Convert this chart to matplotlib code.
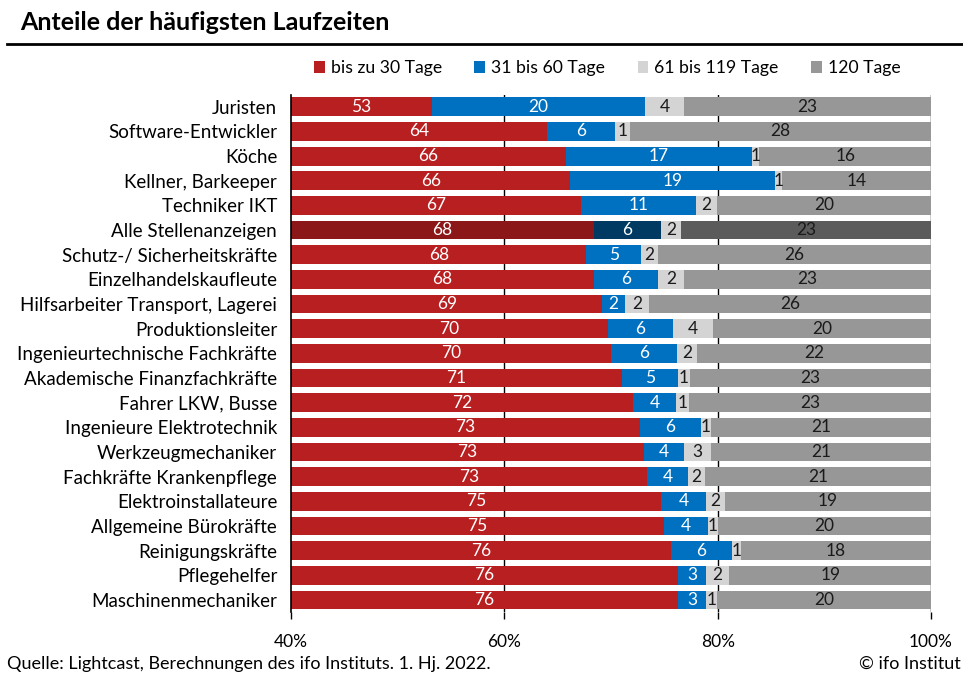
import numpy as np
from matplotlib import pyplot as plt

plt.rcParams['font.family'] = ['Lato', 'DejaVu Sans']

# categories top to bottom
berufe = ['Juristen', 'Software-Entwickler', 'Köche', 'Kellner, Barkeeper',
          'Techniker IKT', 'Alle Stellenanzeigen', 'Schutz-/ Sicherheitskräfte',
          'Einzelhandelskaufleute', 'Hilfsarbeiter Transport, Lagerei',
          'Produktionsleiter', 'Ingenieurtechnische Fachkräfte',
          'Akademische Finanzfachkräfte', 'Fahrer LKW, Busse',
          'Ingenieure Elektrotechnik', 'Werkzeugmechaniker',
          'Fachkräfte Krankenpflege', 'Elektroinstallateure',
          'Allgemeine Bürokräfte', 'Reinigungskräfte', 'Pflegehelfer',
          'Maschinenmechaniker']

# shares in percent
bis30 = [53.2, 64.0, 65.8, 66.2, 67.2, 68.4, 67.7, 68.4, 69.2, 69.7, 70.0,
         71.0, 72.1, 72.7, 73.1, 73.4, 74.7, 75.0, 75.6, 76.3, 76.3]
bis60 = [20.0, 6.4, 17.4, 19.2, 10.8, 6.3, 5.1, 6.0, 2.1, 6.1, 6.2,
         5.3, 4.0, 5.7, 3.7, 3.8, 4.2, 4.1, 5.7, 2.6, 2.6]
bis119 = [3.6, 1.4, 0.7, 0.6, 1.9, 1.9, 1.6, 2.4, 2.3, 3.8, 1.9,
          1.1, 1.2, 1.0, 2.6, 1.6, 1.8, 0.9, 0.9, 2.2, 1.0]
ab120 = [23.2, 28.2, 16.1, 14.0, 20.1, 23.4, 25.6, 23.2, 26.4, 20.4, 21.9,
         22.6, 22.7, 20.6, 20.6, 21.2, 19.3, 20.0, 17.8, 18.9, 20.1]

serien = ['bis zu 30 Tage', '31 bis 60 Tage', '61 bis 119 Tage', '120 Tage']
farben = ['#B81F21', '#0070C0', '#D4D4D4', '#979797']
farben_alle = ['#8C1718', '#003A63', '#D4D4D4', '#5B5B5B']
textfarben = ['white', 'white', '#1a1a1a', '#1a1a1a']

xmin, xmax = 40, 100

fig = plt.figure(figsize=(9.63, 6.75), dpi=100)
ax = fig.add_axes([0.3022, 0.093, 0.6646, 0.767])

y = np.arange(len(berufe))
data = [bis30, bis60, bis119, ab120]
left = np.zeros(len(berufe))
for k, vals in enumerate(data):
    vals = np.array(vals)
    cols = [farben_alle[k] if b == 'Alle Stellenanzeigen' else farben[k] for b in berufe]
    ax.barh(y, vals, left=left, height=0.76, color=cols, zorder=2,
            label=serien[k])
    # label in the middle of the visible part of each segment
    for i in range(len(berufe)):
        a = max(left[i], xmin)
        b = min(left[i] + vals[i], xmax)
        ax.text((a + b) / 2, y[i], f'{vals[i]:.0f}', ha='center', va='center',
                color=textfarben[k], fontsize=12.5, zorder=3)
    left = left + vals

ax.set_xlim(xmin, xmax)
ax.set_ylim(len(berufe) - 0.5, -0.5)
ax.set_yticks(y)
ax.set_yticklabels(berufe, fontsize=13.5)
ax.tick_params(axis='y', length=0, pad=10)
ax.set_xticks([40, 60, 80, 100])
ax.set_xticklabels(['40%', '60%', '80%', '100%'], fontsize=12.5)
ax.tick_params(axis='x', length=5, width=1, pad=11, direction='out')
for xv in [60, 80, 100]:
    ax.axvline(xv, color='black', lw=1, zorder=1)
for s in ['top', 'right', 'bottom']:
    ax.spines[s].set_visible(False)
ax.spines['left'].set_color('black')
ax.spines['left'].set_linewidth(1.2)
ax.spines['left'].set_zorder(4)

fig.legend(loc='center left', bbox_to_anchor=(0.326, 0.899), ncol=4,
           frameon=False, fontsize=12.7, handlelength=0.6, handleheight=0.6,
           handletextpad=0.35, columnspacing=1.85, borderpad=0,
           borderaxespad=0)

fig.text(0.021, 0.967, 'Anteile der häufigsten Laufzeiten', fontsize=18,
         fontweight='bold', va='center')
fig.add_artist(plt.Line2D([0.007, 1.0], [0.935, 0.935], color='black', lw=2))
fig.text(0.007, 0.0163, 'Quelle: Lightcast, Berechnungen des ifo Instituts. 1. Hj. 2022.',
         fontsize=13, va='center')
fig.text(0.998, 0.0163, '© ifo Institut', fontsize=13, va='center', ha='right')

plt.savefig('out.png', dpi=100)
